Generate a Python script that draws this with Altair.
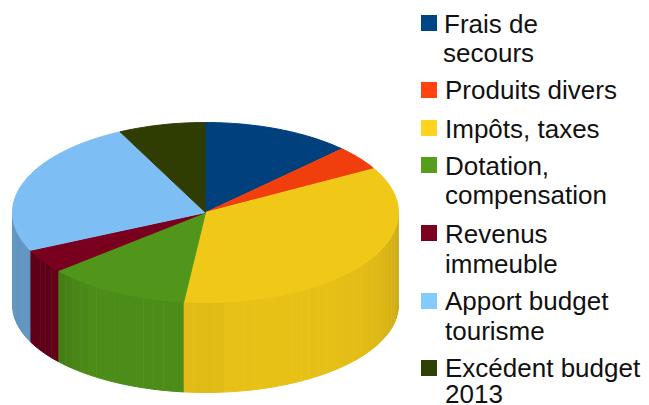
import math
import altair as alt
import pandas as pd

# Data
categories = ["Frais de secours", "Produits divers", "Impôts, taxes", "Dotation, compensation",
              "Revenus immeuble", "Apport budget tourisme", "Excédent budget 2013"]
shares = [12.5, 4.4, 34.9, 12.0, 4.3, 24.6, 7.3]
top_colors = ["#00417d", "#f03e0c", "#f0c818", "#51951a", "#78001e", "#7dbff5", "#2f3c02"]
legend_colors = ["#004586", "#ff420e", "#ffd320", "#579d1c", "#7e0021", "#83caff", "#314004"]
legend_lines = [["Frais de", "secours"], ["Produits divers"], ["Impôts, taxes"],
                ["Dotation,", "compensation"], ["Revenus", "immeuble"],
                ["Apport budget", "tourisme"], ["Excédent budget", "2013"]]

# Layout (pixels of the page)
W, H = 641, 405
M = 8
CX, CY, RX, RY = 205.5, 212.5, 193.0, 90.0
BCY, BRY = 305.0, 87.5
SWATCH_X = 429
TEXT_X = [444, 445, 445, 445, 445, 445, 445]
SWATCH_Y = [23, 90, 128, 165, 233, 301, 368]
BASELINES = [[33, 62], [99], [138], [175, 204], [243, 273], [310, 340], [377, 403]]


def shade(rgb, f):
    h = rgb.lstrip("#")
    return "#%02x%02x%02x" % tuple(min(255, int(int(h[i:i + 2], 16) * f)) for i in (0, 2, 4))


def top_pt(t):
    return CX + RX * math.sin(t), CY - RY * math.cos(t)


def bot_pt(t):
    return CX + RX * math.sin(t), BCY - BRY * math.cos(t)


tops, sides = [], []
start = 0.0
total = sum(shares)
for i, s in enumerate(shares):
    a0 = start / total * 2 * math.pi
    a1 = (start + s) / total * 2 * math.pi
    start += s
    n = max(2, int(s * 4))
    pts = [(CX, CY)] + [top_pt(a0 + (a1 - a0) * k / n) for k in range(n + 1)]
    for k, (x, y) in enumerate(pts):
        tops.append({"x": x, "y": y, "k": k, "g": i, "c": top_colors[i]})
    # visible side wall, in thin strips shaded by direction
    lo, hi = max(a0, math.pi / 2), min(a1, 3 * math.pi / 2)
    if hi > lo:
        m = max(1, int((hi - lo) / math.radians(3)))
        for j in range(m):
            t0 = lo + (hi - lo) * j / m
            t1 = lo + (hi - lo) * (j + 1) / m
            mid = (t0 + t1) / 2
            d = abs(mid - math.radians(175)) / math.radians(85)
            if mid < math.radians(175):
                f = 0.97 - 0.14 * d ** 3
            else:
                f = 0.94 - 0.15 * min(1.0, max(0.0, (d - 0.5) / 0.2))
            col = shade(top_colors[i], f)
            quad = [top_pt(t0), top_pt(t1), bot_pt(t1), bot_pt(t0)]
            for k, (x, y) in enumerate(quad):
                sides.append({"x": x, "y": y, "k": k, "g": f"{i}-{j}", "c": col})

xs = alt.Scale(domain=[M, W], range=[0, W - M])
ys = alt.Scale(domain=[M, H], range=[0, H - M])
X = alt.X("x:Q", scale=xs, axis=None)
Y = alt.Y("y:Q", scale=ys, axis=None)


def poly(rows):
    return alt.Chart(pd.DataFrame(rows)).mark_line(filled=True, strokeWidth=1, interpolate="linear").encode(
        x=X, y=Y, detail="g:N", order="k:Q",
        fill=alt.Fill("c:N", scale=None), stroke=alt.Stroke("c:N", scale=None))


swatches = pd.DataFrame({"x": [SWATCH_X] * 7, "y": SWATCH_Y, "c": legend_colors})
sw = alt.Chart(swatches).mark_square(size=256, opacity=1, filled=True).encode(
    x=X, y=Y, fill=alt.Fill("c:N", scale=None))

text_rows = []
for i, lines in enumerate(legend_lines):
    for j, line in enumerate(lines):
        text_rows.append({"x": TEXT_X[i] - (1 if i == 0 and j == 1 else 0), "y": BASELINES[i][j], "t": line})
labels = alt.Chart(pd.DataFrame(text_rows)).mark_text(
    font="Liberation Sans", fontSize=26, align="left", baseline="alphabetic", color="#111111"
).encode(x=X, y=Y, text="t:N")

chart = alt.layer(poly(sides), poly(tops), sw, labels).properties(
    width=W - M, height=H - M, padding=0, autosize=alt.AutoSizeParams(type="none"),
    background="white"
).configure_view(stroke=None)
chart.save("out.html", embed_options={"renderer": "svg", "actions": False})
